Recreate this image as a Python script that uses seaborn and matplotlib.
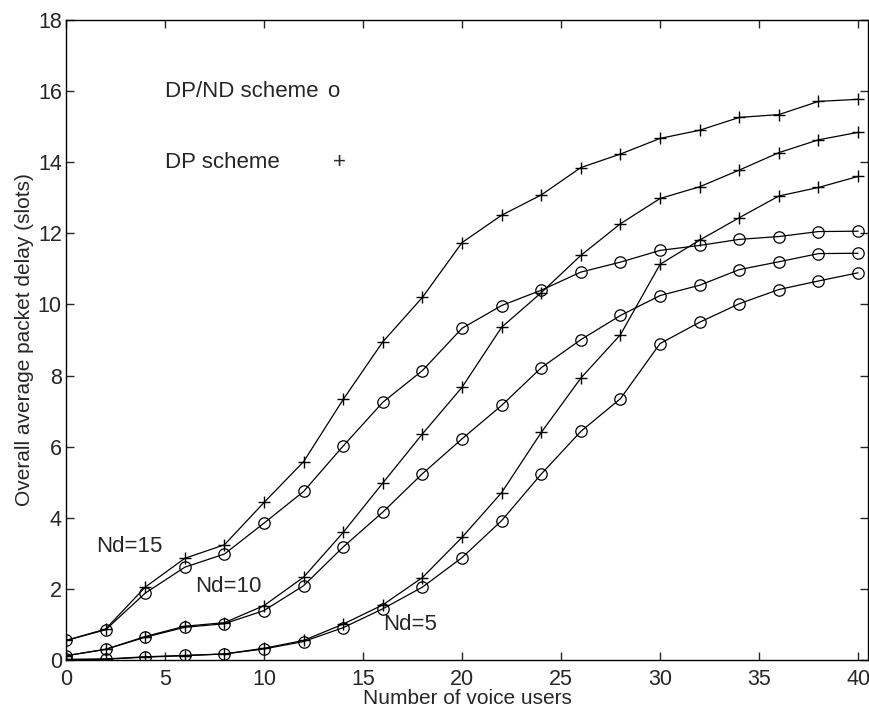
import matplotlib
matplotlib.use("Agg")
import matplotlib.pyplot as plt
import seaborn as sns
import pandas as pd
import numpy as np

users = [0, 2, 4, 6, 8, 10, 12, 14, 16, 18, 20, 22, 24, 26, 28, 30, 32, 34, 36, 38, 40]

dpnd_nd15 = [0.55, 0.85, 1.88, 2.61, 2.98, 3.85, 4.74, 6.02, 7.25, 8.14, 9.33, 9.97, 10.40, 10.91, 11.19, 11.52, 11.66, 11.83, 11.91, 12.05, 12.06]
dp_nd15 = [0.55, 0.87, 2.05, 2.86, 3.24, 4.43, 5.58, 7.33, 8.95, 10.20, 11.74, 12.51, 13.08, 13.85, 14.23, 14.67, 14.90, 15.26, 15.34, 15.71, 15.77]
dpnd_nd10 = [0.12, 0.30, 0.64, 0.92, 1.02, 1.39, 2.09, 3.18, 4.16, 5.24, 6.22, 7.16, 8.22, 9.01, 9.69, 10.25, 10.54, 10.98, 11.20, 11.43, 11.44]
dp_nd10 = [0.12, 0.30, 0.66, 0.95, 1.05, 1.53, 2.33, 3.59, 4.98, 6.36, 7.67, 9.36, 10.33, 11.38, 12.27, 12.98, 13.31, 13.78, 14.27, 14.63, 14.84]
dpnd_nd5 = [0.02, 0.03, 0.09, 0.13, 0.17, 0.31, 0.52, 0.91, 1.44, 2.05, 2.88, 3.92, 5.23, 6.43, 7.35, 8.90, 9.50, 10.02, 10.42, 10.66, 10.89]
dp_nd5 = [0.0, 0.02, 0.08, 0.12, 0.17, 0.33, 0.55, 1.01, 1.55, 2.32, 3.45, 4.71, 6.40, 7.93, 9.15, 11.13, 11.81, 12.44, 13.05, 13.29, 13.60]

series = {
    ("DP/ND", "Nd=15"): dpnd_nd15,
    ("DP", "Nd=15"): dp_nd15,
    ("DP/ND", "Nd=10"): dpnd_nd10,
    ("DP", "Nd=10"): dp_nd10,
    ("DP/ND", "Nd=5"): dpnd_nd5,
    ("DP", "Nd=5"): dp_nd5,
}

rows = []
for (scheme, nd), vals in series.items():
    for u, v in zip(users, vals):
        rows.append({"users": u, "delay": v, "scheme": scheme, "nd": nd})
df = pd.DataFrame(rows)

sns.set_style("ticks")
plt.rcParams["font.family"] = ["Liberation Sans", "DejaVu Sans"]
plt.rcParams["xtick.direction"] = "in"
plt.rcParams["ytick.direction"] = "in"

fig = plt.figure(figsize=(8.7, 7.12), dpi=100)
ax = fig.add_axes([66 / 870, 1 - 660 / 712, (868 - 66) / 870, (660 - 20) / 712])

for (scheme, nd), _ in series.items():
    sub = df[(df.scheme == scheme) & (df.nd == nd)]
    if scheme == "DP/ND":
        sns.lineplot(data=sub, x="users", y="delay", ax=ax, color="black", lw=0.9,
                     marker="o", markersize=8.2, markerfacecolor="none",
                     markeredgecolor="black", markeredgewidth=0.9)
    else:
        sns.lineplot(data=sub, x="users", y="delay", ax=ax, color="black", lw=0.9,
                     marker="+", markersize=9, markeredgecolor="black",
                     markeredgewidth=1.0)

ax.set_xlim(0, 40.5)
ax.set_ylim(0, 18)
ax.set_xticks(np.arange(0, 41, 5))
ax.set_yticks(np.arange(0, 19, 2))
ax.tick_params(axis="both", which="both", top=True, right=True, labelsize=15.5,
               length=6, width=1)
ax.tick_params(axis="x", pad=6.5)
ax.tick_params(axis="y", pad=3)
for s in ax.spines.values():
    s.set_linewidth(1)
    s.set_color("black")

ax.set_xlabel("Number of voice users", fontsize=15, labelpad=-1)
ax.set_ylabel("Overall average packet delay (slots)", fontsize=15, labelpad=3)

ax.text(5.0, 16.0, "DP/ND scheme", fontsize=16, va="center", ha="left")
ax.text(13.5, 16.0, "o", fontsize=16, va="center", ha="center")
ax.text(5.0, 14.0, "DP scheme", fontsize=16, va="center", ha="left")
ax.text(13.8, 14.0, "+", fontsize=16, va="center", ha="center")

ax.text(1.5, 3.18, "Nd=15", fontsize=16, va="center", ha="left")
ax.text(6.5, 2.07, "Nd=10", fontsize=16, va="center", ha="left")
ax.text(16.0, 0.99, "Nd=5", fontsize=16, va="center", ha="left")

fig.savefig("out.png", dpi=100)
